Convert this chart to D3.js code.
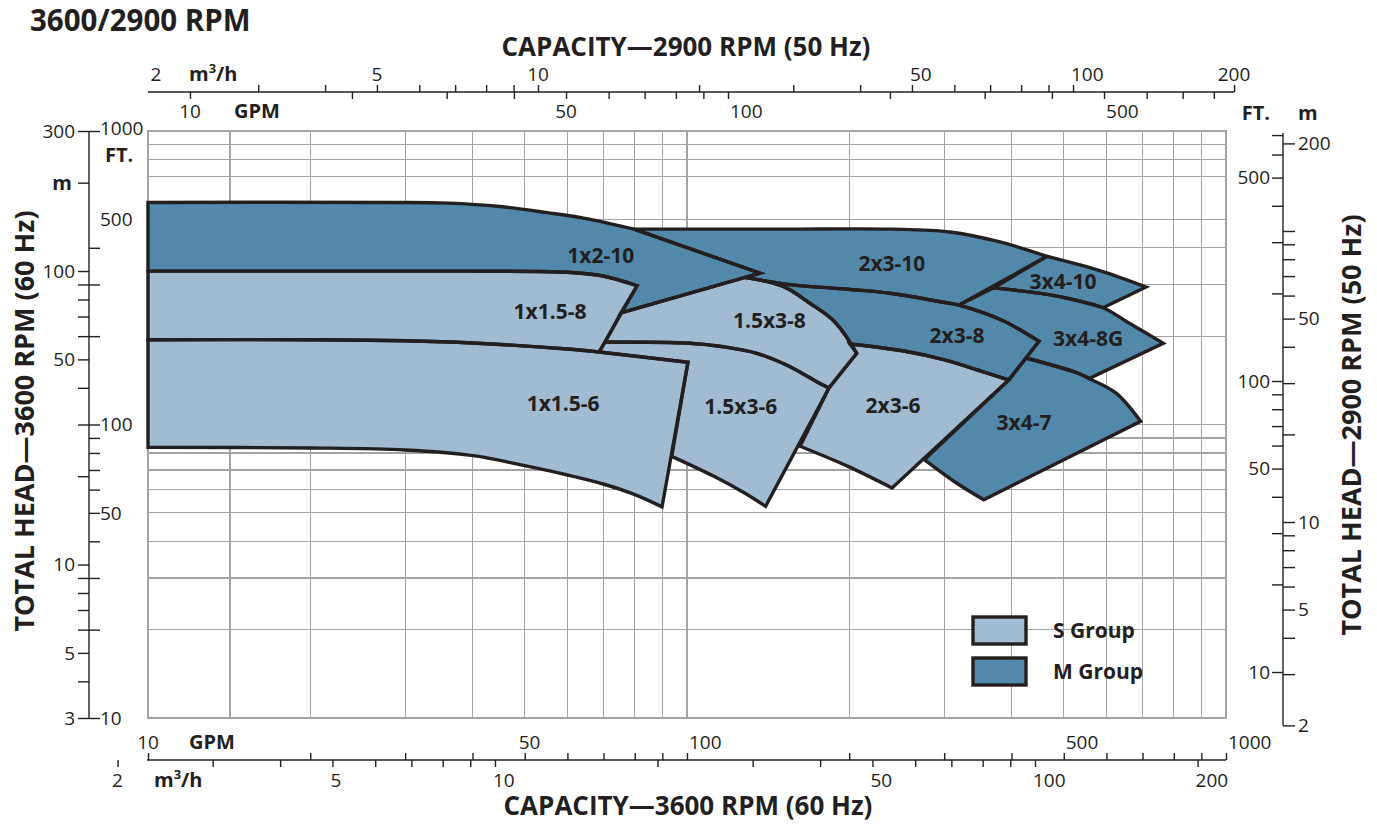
<!DOCTYPE html>
<meta charset="utf-8">
<style>
body { margin: 0; background: #fff; }
svg { display: block; font-family: "Open Sans", "Noto Sans", sans-serif; }
.grid line, .grid rect { stroke: #a3a3a3; stroke-width: 1.2; fill: none; shape-rendering: crispEdges; }
.axis line, .axis path { stroke: #231f20; stroke-width: 1.4; fill: none; }
.tick-label { font-size: 19px; fill: #231f20; }
.unit { font-size: 20px; font-weight: 700; fill: #231f20; }
.title { font-size: 26px; font-weight: 700; fill: #231f20; }
.pump-label { font-size: 21px; font-weight: 700; fill: #231f20; }
.outline { fill: none; stroke: #231f20; stroke-width: 3.4; stroke-linejoin: miter; }
.legend-text { font-size: 21px; font-weight: 700; fill: #231f20; }
</style>

<div id="chart"></div>
<script src="https://d3js.org/d3.v7.min.js"></script>
<script>

// grid values (60 Hz capacity in GPM, head in feet)
const gpmGrid = [10, 14.2, 20, 30, 40, 50, 60, 70, 80, 90, 100, 200, 300, 400, 500, 600, 700, 800, 900, 1000];
const ftGrid = [10, 20, 30, 40, 50, 60, 70, 80, 90, 100, 200, 300, 400, 500, 700, 800, 900, 1000];

// left axis (3600 RPM)
const ftTicksLeft = [10, 20, 30, 40, 50, 60, 70, 80, 90, 100, 200, 300, 400, 1000];
const ftLabelsLeft = [10, 50, 100, 500, 1000];
const mTicksLeft = [3, 4, 5, 6, 7, 8, 9, 10, 20, 30, 40, 50, 60, 70, 80, 90, 100, 200, 300];
const mLabelsLeft = [3, 5, 10, 50, 100, 300];

// right axis (2900 RPM)
const ftTicksRight = [10, 20, 30, 40, 50, 60, 70, 80, 90, 100, 200, 300, 400, 500, 600, 700];
const ftLabelsRight = [10, 50, 100, 500];
const mTicksRight = [2, 3, 4, 5, 6, 7, 8, 9, 10, 20, 30, 40, 50, 60, 70, 80, 90, 100, 200];
const mLabelsRight = [2, 5, 10, 50, 200];

// top axis (2900 RPM)
const gpmTicksTop = [10, 20, 30, 40, 50, 60, 70, 80, 90, 100, 200, 300, 400, 500, 600, 700, 800];
const gpmLabelsTop = [10, 50, 100, 500];
const m3hTicksTop = [3, 4, 5, 6, 7, 8, 9, 10, 20, 30, 40, 50, 60, 70, 80, 90, 100, 200];
const m3hLabelsTop = [2, 5, 10, 50, 100, 200];

// bottom axis (3600 RPM)
const gpmTicksBottom = [10, 20, 30, 40, 50, 60, 70, 80, 90, 100, 200, 300, 400, 500, 600, 700, 800, 900, 1000];
const gpmLabelsBottom = [10, 50, 100, 500, 1000];
const m3hTicksBottom = [2, 3, 4, 5, 6, 7, 8, 9, 10, 20, 30, 40, 50, 60, 70, 80, 90, 100, 200];
const m3hLabelsBottom = [2, 5, 10, 50, 100, 200];

// pump coverage outlines, edge by edge, as [GPM, ft] at 3600 RPM
const edges1x2_10 = [
  [[10, 571], [28, 571], [36, 568], [45, 553], [55, 527], [65, 503], [79.75, 463]],
  [[79.75, 463], [136.6, 328]],
  [[136.6, 328], [75.4, 240]],
  [[75.4, 240], [80.8, 297]],
  [[80.8, 297], [70.2, 320], [60, 330], [40, 333], [20, 333], [10, 333]]
];
const edges1x1_5_8 = [
  [[10, 333], [20, 333], [40, 333], [60, 330], [70.2, 320], [80.8, 297]],
  [[80.8, 297], [68.7, 176.6]],
  [[68.7, 176.6], [60, 180.8], [40, 189.6], [30, 193], [20, 194.5], [10, 194.5]]
];
const edges1x1_5_6 = [
  [[10, 194.5], [20, 194.5], [30, 193], [40, 189.6], [60, 180.8], [68.7, 176.6], [100.4, 162.9]],
  [[100.4, 162.9], [89.9, 52.4]],
  [[89.9, 52.4], [79.4, 58], [69.9, 62.7], [60, 67.3], [50, 72.4], [40.1, 78.3], [30, 81.9], [20, 83.2], [10, 83.6]]
];
const edges1_5x3_8 = [
  [[75.4, 240], [128.1, 317]],
  [[128.1, 317], [150.5, 296], [168.8, 259.4], [186.3, 227.5], [197.9, 198.2], [206.5, 174.8]],
  [[206.5, 174.8], [183.4, 133.2]],
  [[183.4, 133.2], [174, 139.9], [155.3, 157.4], [134.7, 174.8], [116.7, 184.1], [101.3, 189.2], [70.5, 191.1]],
  [[70.5, 191.1], [75.4, 240]]
];
const edges1_5x3_6 = [
  [[70.5, 191.1], [101.3, 189.2], [116.7, 184.1], [134.7, 174.8], [155.3, 157.4], [174, 139.9], [183.4, 133.2]],
  [[183.4, 133.2], [139.9, 52.6]],
  [[139.9, 52.6], [127.9, 58.4], [112.2, 66.6], [93.7, 77.9]],
  [[93.7, 77.9], [100.4, 162.9]],
  [[100.4, 162.9], [68.7, 176.6]],
  [[68.7, 176.6], [70.5, 191.1]]
];
const edges2x3_10 = [
  [[79.75, 463], [150, 463], [240, 463], [307.6, 452.8], [380.8, 418.7], [465.5, 374]],
  [[465.5, 374], [319.6, 255.3]],
  [[319.6, 255.3], [299.1, 260.9], [238.1, 280], [198.9, 289], [155.3, 299.6], [128.1, 317]],
  [[128.1, 317], [136.6, 328]],
  [[136.6, 328], [79.75, 463]]
];
const edges2x3_8 = [
  [[128.1, 317], [155.3, 299.6], [198.9, 289], [238.1, 280], [299.1, 260.9], [319.6, 255.3], [382.5, 227.5], [449.8, 192.1]],
  [[449.8, 192.1], [395.2, 141.8]],
  [[395.2, 141.8], [352.3, 151.8], [299.3, 166.3], [254.1, 177.6], [200.6, 188.1]],
  [[200.6, 188.1], [197.9, 198.2], [186.3, 227.5], [168.8, 259.4], [150.5, 296], [128.1, 317]]
];
const edges2x3_6 = [
  [[200.6, 188.1], [254.1, 177.6], [299.3, 166.3], [352.3, 151.8], [395.2, 141.8]],
  [[395.2, 141.8], [240.1, 60.8]],
  [[240.1, 60.8], [198.9, 72], [162.1, 84.3]],
  [[162.1, 84.3], [183.4, 133.2]],
  [[183.4, 133.2], [206.5, 174.8]],
  [[206.5, 174.8], [200.6, 188.1]]
];
const edges3x4_10 = [
  [[465.5, 374], [575.4, 337], [710.7, 294]],
  [[710.7, 294], [591.4, 250]],
  [[591.4, 250], [488.6, 273.4], [370.1, 292]],
  [[370.1, 292], [465.5, 374]]
];
const edges3x4_8G = [
  [[370.1, 292], [488.6, 273.4], [591.4, 250], [654.4, 224], [764.9, 189.2]],
  [[764.9, 189.2], [557, 143.5]],
  [[557, 143.5], [530.3, 149.8], [425.6, 168.5]],
  [[425.6, 168.5], [449.8, 192.1]],
  [[449.8, 192.1], [382.5, 227.5], [319.6, 255.3]],
  [[319.6, 255.3], [370.1, 292]]
];
const edges3x4_7 = [
  [[425.6, 168.5], [530.3, 149.8], [557, 143.5], [624.6, 128.1], [694.4, 102.5]],
  [[694.4, 102.5], [355.2, 55.4]],
  [[355.2, 55.4], [314.2, 63.7], [275.6, 75.9]],
  [[275.6, 75.9], [395.2, 141.8]],
  [[395.2, 141.8], [425.6, 168.5]]
];

const pumpNames  = ["1x2-10", "1x1.5-8", "1x1.5-6", "1.5x3-8", "1.5x3-6", "2x3-10", "2x3-8", "2x3-6", "3x4-10", "3x4-8G", "3x4-7"];
const pumpGroups = ["M", "S", "S", "S", "S", "M", "M", "S", "M", "M", "M"];
const pumpEdges  = [edges1x2_10, edges1x1_5_8, edges1x1_5_6, edges1_5x3_8, edges1_5x3_6, edges2x3_10, edges2x3_8, edges2x3_6, edges3x4_10, edges3x4_8G, edges3x4_7];
const labelGpm   = [69.2, 55.7, 58.9, 142.2, 125.8, 240, 317, 241.1, 498.4, 555, 421.9];
const labelFt    = [375.8, 242.3, 117.4, 226.5, 115.3, 353, 200.7, 115.9, 307.5, 195.6, 101.2];

const groupNames = ["S Group", "M Group"];
const groupColor = { S: "#a0bbd2", M: "#5288aa" };

// ---------------------------------------------------------------
var W = 1377, H = 825;
var plotL = 148, plotR = 1226, plotT = 131, plotB = 718;

var svg = d3.select("#chart").append("svg")
  .attr("width", W).attr("height", H);

var x = d3.scaleLog().domain([10, 1000]).range([plotL, plotR]);
var y = d3.scaleLog().domain([10, 1000]).range([plotB, plotT]);
var yMLeft = d3.scaleLog().domain([3, 300]).range([plotB, plotT]);
var yFtRight = d3.scaleLog().domain([10, 100]).range([672, 381]);
var yMRight = d3.scaleLog().domain([10, 100]).range([522, 231]);
var xGpmTop = d3.scaleLog().domain([10, 100]).range([190, 728]);
var xM3hTop = d3.scaleLog().domain([10, 100]).range([538, 1073]);
var xM3hBottom = d3.scaleLog().domain([10, 100]).range([495, 1035]);

// grid
var grid = svg.append("g").attr("class", "grid");
grid.selectAll("line.v").data(gpmGrid).enter().append("line")
  .attr("x1", d => x(d)).attr("x2", d => x(d))
  .attr("y1", plotT).attr("y2", plotB);
grid.selectAll("line.h").data(ftGrid).enter().append("line")
  .attr("y1", d => y(d)).attr("y2", d => y(d))
  .attr("x1", plotL).attr("x2", plotR);
grid.append("rect").attr("x", plotL).attr("y", plotT)
  .attr("width", plotR - plotL).attr("height", plotB - plotT);

// pump areas
var line = d3.line()
  .x(d => x(d[0])).y(d => y(d[1]))
  .curve(d3.curveCatmullRom.alpha(0.5));

function outline(edges) {
  return edges.map((e, i) => {
    var s = line(e);
    return i ? "L" + s.slice(1) : s;
  }).join("") + "Z";
}

var areas = svg.append("g");
areas.selectAll("path.fill").data(pumpEdges).enter().append("path")
  .attr("d", outline)
  .attr("fill", (d, i) => groupColor[pumpGroups[i]])
  .attr("stroke", (d, i) => groupColor[pumpGroups[i]])
  .attr("stroke-width", 1);
areas.selectAll("path.outline").data(pumpEdges).enter().append("path")
  .attr("class", "outline")
  .attr("d", outline);

svg.append("g").selectAll("text").data(pumpNames).enter().append("text")
  .attr("class", "pump-label")
  .attr("x", (d, i) => x(labelGpm[i]))
  .attr("y", (d, i) => y(labelFt[i]))
  .attr("dy", "0.35em")
  .attr("text-anchor", "middle")
  .text(d => d);

// helper to strip the domain path of an axis
function noDomain(g) { g.select(".domain").remove(); }

// left axis
var axL = 89;
svg.append("g").attr("class", "axis")
  .attr("transform", "translate(" + axL + ",0)")
  .call(d3.axisRight(y).tickValues(ftTicksLeft).tickSize(11).tickFormat("").tickSizeOuter(0))
  .call(noDomain);
svg.append("g").attr("class", "axis")
  .attr("transform", "translate(" + axL + ",0)")
  .call(d3.axisLeft(yMLeft).tickValues(mTicksLeft).tickSize(11).tickFormat("").tickSizeOuter(0))
  .call(noDomain);
svg.append("line")
  .attr("x1", axL).attr("x2", axL).attr("y1", plotT).attr("y2", plotB)
  .attr("stroke", "#231f20").attr("stroke-width", 1.4);

svg.append("g").selectAll("text").data(ftLabelsLeft).enter().append("text")
  .attr("class", "tick-label")
  .attr("x", axL + 11).attr("y", d => y(d)).attr("dy", d => d === 1000 ? "0.2em" : "0.35em")
  .text(d => d);
svg.append("g").selectAll("text").data(mLabelsLeft).enter().append("text")
  .attr("class", "tick-label")
  .attr("x", axL - 14).attr("y", d => yMLeft(d)).attr("dy", "0.35em")
  .attr("text-anchor", "end")
  .text(d => d);
svg.append("text").attr("class", "unit").attr("x", axL + 16).attr("y", y(1000) + 31).text("FT.");
svg.append("text").attr("class", "unit").attr("x", axL - 17).attr("y", yMLeft(200)).attr("dy", "0.35em")
  .attr("text-anchor", "end").text("m");

// right axis
var axR = 1283;
svg.append("g").attr("class", "axis")
  .attr("transform", "translate(" + axR + ",0)")
  .call(d3.axisLeft(yFtRight).tickValues(ftTicksRight).tickSize(11).tickFormat("").tickSizeOuter(0))
  .call(noDomain);
svg.append("g").attr("class", "axis")
  .attr("transform", "translate(" + axR + ",0)")
  .call(d3.axisRight(yMRight).tickValues(mTicksRight).tickSize(12).tickFormat("").tickSizeOuter(0))
  .call(noDomain);
svg.append("line")
  .attr("x1", axR).attr("x2", axR).attr("y1", plotT + 2).attr("y2", yMRight(2))
  .attr("stroke", "#231f20").attr("stroke-width", 1.4);

svg.append("g").selectAll("text").data(ftLabelsRight).enter().append("text")
  .attr("class", "tick-label")
  .attr("x", axR - 13).attr("y", d => yFtRight(d)).attr("dy", "0.35em")
  .attr("text-anchor", "end")
  .text(d => d);
svg.append("g").selectAll("text").data(mLabelsRight).enter().append("text")
  .attr("class", "tick-label")
  .attr("x", axR + 15).attr("y", d => yMRight(d)).attr("dy", "0.35em")
  .text(d => d);
svg.append("text").attr("class", "unit").attr("x", axR - 13).attr("y", 120).attr("text-anchor", "end").text("FT.");
svg.append("text").attr("class", "unit").attr("x", axR + 15).attr("y", 120).text("m");

// top axis
var axT = 92;
svg.append("g").attr("class", "axis")
  .attr("transform", "translate(0," + axT + ")")
  .call(d3.axisTop(xM3hTop).tickValues(m3hTicksTop).tickSize(7).tickFormat("").tickSizeOuter(0))
  .call(noDomain);
svg.append("g").attr("class", "axis")
  .attr("transform", "translate(0," + axT + ")")
  .call(d3.axisBottom(xGpmTop).tickValues(gpmTicksTop).tickSize(7).tickFormat("").tickSizeOuter(0))
  .call(noDomain);
svg.append("line")
  .attr("x1", plotL).attr("x2", xM3hTop(200)).attr("y1", axT).attr("y2", axT)
  .attr("stroke", "#231f20").attr("stroke-width", 1.4);

svg.append("g").selectAll("text").data(m3hLabelsTop).enter().append("text")
  .attr("class", "tick-label")
  .attr("x", d => d === 2 ? plotL + 8 : xM3hTop(d))
  .attr("y", axT - 11)
  .attr("text-anchor", d => (d === 50 || d === 100) ? "start" : "middle")
  .attr("dx", d => (d === 50 || d === 100) ? -2 : 0)
  .text(d => d);
svg.append("g").selectAll("text").data(gpmLabelsTop).enter().append("text")
  .attr("class", "tick-label")
  .attr("x", d => xGpmTop(d))
  .attr("y", axT + 26)
  .attr("text-anchor", d => d >= 100 ? "start" : "middle")
  .attr("dx", d => d >= 100 ? 2 : 0)
  .text(d => d);
svg.append("text").attr("class", "unit").attr("x", 189).attr("y", axT - 11)
  .html('m<tspan dy="-8" font-size="13">3</tspan><tspan dy="8">/h</tspan>');
svg.append("text").attr("class", "unit").attr("x", 234).attr("y", axT + 26).text("GPM");

// bottom axis
var axB = 760;
svg.append("g").attr("class", "axis")
  .attr("transform", "translate(0," + axB + ")")
  .call(d3.axisTop(x).tickValues(gpmTicksBottom).tickSize(7).tickFormat("").tickSizeOuter(0))
  .call(noDomain);
svg.append("g").attr("class", "axis")
  .attr("transform", "translate(0," + axB + ")")
  .call(d3.axisBottom(xM3hBottom).tickValues(m3hTicksBottom).tickSize(7).tickFormat("").tickSizeOuter(0))
  .call(noDomain);
svg.append("line")
  .attr("x1", plotL - 1).attr("x2", plotR).attr("y1", axB).attr("y2", axB)
  .attr("stroke", "#231f20").attr("stroke-width", 1.4);

svg.append("g").selectAll("text").data(gpmLabelsBottom).enter().append("text")
  .attr("class", "tick-label")
  .attr("x", d => x(d))
  .attr("y", axB - 11)
  .attr("text-anchor", d => d === 10 ? "middle" : "start")
  .attr("dx", d => d === 50 ? -6 : (d === 10 ? 0 : 2))
  .text(d => d);
svg.append("g").selectAll("text").data(m3hLabelsBottom).enter().append("text")
  .attr("class", "tick-label")
  .attr("x", d => xM3hBottom(d))
  .attr("y", axB + 27)
  .attr("text-anchor", d => d === 2 ? "middle" : "start")
  .attr("dx", d => d === 2 ? 0 : -2)
  .text(d => d);
svg.append("text").attr("class", "unit").attr("x", 189).attr("y", axB - 11).text("GPM");
svg.append("text").attr("class", "unit").attr("x", 154).attr("y", axB + 27)
  .html('m<tspan dy="-8" font-size="13">3</tspan><tspan dy="8">/h</tspan>');

// titles
svg.append("text").attr("class", "title").attr("x", 30).attr("y", 31)
  .style("font-size", "29.5px").text("3600/2900 RPM");
svg.append("text").attr("class", "title").attr("x", 686).attr("y", 56)
  .attr("text-anchor", "middle").text("CAPACITY\u20142900 RPM (50 Hz)");
svg.append("text").attr("class", "title").attr("x", 688).attr("y", 815)
  .attr("text-anchor", "middle").text("CAPACITY\u20143600 RPM (60 Hz)");
svg.append("text").attr("class", "title").style("font-size", "27px")
  .attr("transform", "translate(34,421) rotate(-90)")
  .attr("text-anchor", "middle").text("TOTAL HEAD\u20143600 RPM (60 Hz)");
svg.append("text").attr("class", "title").style("font-size", "27px")
  .attr("transform", "translate(1361,425) rotate(-90)")
  .attr("text-anchor", "middle").text("TOTAL HEAD\u20142900 RPM (50 Hz)");

// legend
var legend = svg.append("g").attr("transform", "translate(973,617)");
var item = legend.selectAll("g").data(groupNames).enter().append("g")
  .attr("transform", (d, i) => "translate(0," + i * 41 + ")");
item.append("rect")
  .attr("width", 53).attr("height", 27)
  .attr("fill", d => groupColor[d[0]])
  .attr("stroke", "#231f20").attr("stroke-width", 3.4);
item.append("text").attr("class", "legend-text")
  .attr("x", 80).attr("y", 14).attr("dy", "0.35em")
  .text(d => d);

</script>
